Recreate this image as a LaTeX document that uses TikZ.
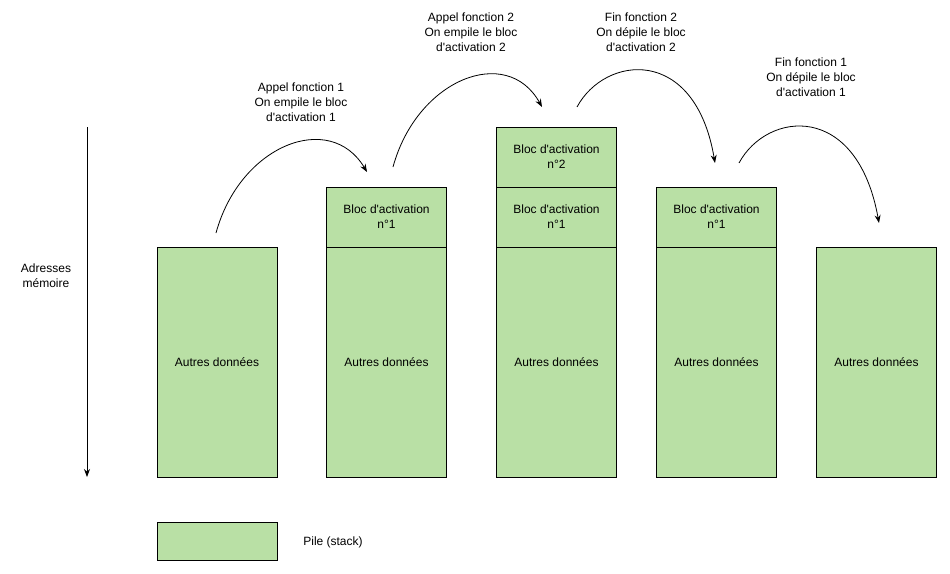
\documentclass[tikz,border=0pt]{standalone}
\usepackage{fontspec}
\setmainfont{Liberation Sans}[Ligatures=TeXOff]
\usetikzlibrary{arrows.meta}
\definecolor{pilevert}{HTML}{B9E0A5}
\begin{document}
\begin{tikzpicture}[x=1pt, y=-1pt, line width=1pt,
        font=\fontsize{12}{15}\selectfont,
        pile/.style={draw, fill=pilevert, minimum width=120pt, align=center, inner sep=0pt},
        bloc/.style={pile, minimum height=60pt},
        autres/.style={pile, minimum height=230pt},
        legende/.style={align=center},
        saut/.style={-{Stealth[length=8pt, width=6pt]}, line width=0.8pt}]
                \useasboundingbox (0,0) rectangle (950,573);
                % axe des adresses
                \coordinate (haut) at (87,127);
                \coordinate (bas) at (87,477);
                \draw[saut] (haut) -- (bas);
                \node[legende] (adr) at (46,276) {Adresses\\mémoire};
                % les piles
                \node[autres] (a1) at (217,362) {Autres données};
                \node[autres] (a2) at (386.5,362) {Autres données};
                \node[bloc] (b21) at (386.5,217) {Bloc d'activation\\n°1};
                \node[autres] (a3) at (556.5,362) {Autres données};
                \node[bloc] (b31) at (556.5,217) {Bloc d'activation\\n°1};
                \node[bloc] (b32) at (556.5,157) {Bloc d'activation\\n°2};
                \node[autres] (a4) at (716.5,362) {Autres données};
                \node[bloc] (b41) at (716.5,217) {Bloc d'activation\\n°1};
                \node[autres] (a5) at (876.5,362) {Autres données};
                % appels et retours
                \coordinate (s1) at (216,233);
                \coordinate (e1) at (367,172);
                \coordinate (s2) at (393,167);
                \coordinate (e2) at (542,107);
                \coordinate (s3) at (577,107);
                \coordinate (e3) at (715,163);
                \coordinate (s4) at (739,163);
                \coordinate (e4) at (879,223);
                \draw[saut] (s1) .. controls (240,145) and (330,110) .. (e1);
                \draw[saut] (s2) .. controls (417,79) and (507,44) .. (e2);
                \draw[saut] (s3) .. controls (605,55) and (695,45) .. (e3);
                \draw[saut] (s4) .. controls (767,111) and (857,101) .. (e4);
                \node[legende] (t1) at (301,102) {Appel fonction 1\\On empile le bloc\\d'activation 1};
                \node[legende] (t2) at (471,32) {Appel fonction 2\\On empile le bloc\\d'activation 2};
                \node[legende] (t3) at (641,32) {Fin fonction 2\\On dépile le bloc\\d'activation 2};
                \node[legende] (t4) at (811,77) {Fin fonction 1\\On dépile le bloc\\d'activation 1};
                % legende
                \node[pile, minimum height=38pt] (cle) at (217,541) {};
                \node[legende] (pile) at (333,542) {Pile (stack)};
            \end{tikzpicture}
\end{document}
